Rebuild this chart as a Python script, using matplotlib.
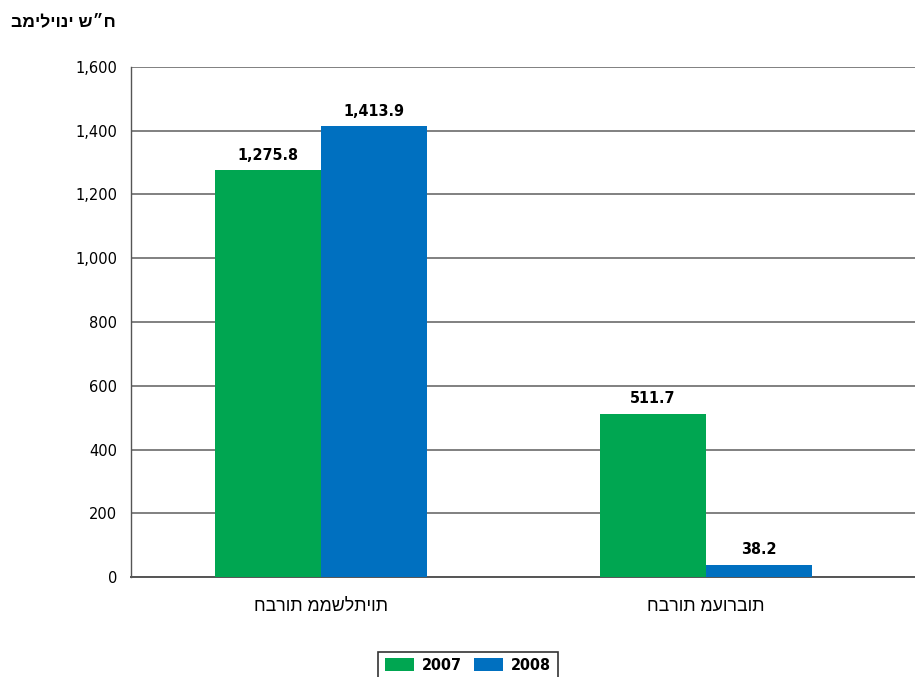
import matplotlib
matplotlib.use("Agg")
import matplotlib.pyplot as plt
import numpy as np

categories = ["חברות ממשלתיות", "חברות מעורבות"]
years = ["2007", "2008"]
values_2007 = [1275.8, 511.7]
values_2008 = [1413.9, 38.2]
y_ticks = [0, 200, 400, 600, 800, 1000, 1200, 1400, 1600]
unit_label = "במיליוני ש״ח"

colors = ["#00A651", "#0070C0"]
hebrew_font = ['Liberation Sans', 'DejaVu Sans']

plt.rcParams['font.family'] = ['DejaVu Sans']

fig = plt.figure(figsize=(9.15, 6.77), dpi=100)
ax = fig.add_axes([131 / 915, 1 - 577 / 677, 1 - 131 / 915, (577 - 67) / 677])

x = np.arange(len(categories))
w = 0.275
series = [values_2007, values_2008]
for i, vals in enumerate(series):
    pos = x + (i - 0.5) * w
    bars = ax.bar(pos, vals, width=w, color=colors[i], label=years[i], zorder=3)
    for b, v in zip(bars, vals):
        ax.text(b.get_x() + b.get_width() / 2, v + 24, f"{v:,.1f}",
                ha="center", va="bottom", fontsize=11.5, fontweight="bold",
                fontstretch="condensed", zorder=4)

ax.set_xlim(-0.4935, 1.543)
ax.set_ylim(0, 1600)
ax.set_yticks(y_ticks)
ax.set_yticklabels([f"{t:,}" for t in y_ticks], fontsize=10.5)
ax.set_xticks(x)
ax.set_xticklabels(categories, fontsize=12.8, family=hebrew_font)
ax.tick_params(axis="both", length=0, colors="black")
ax.tick_params(axis="y", pad=10)
ax.tick_params(axis="x", pad=15)

ax.yaxis.grid(True, color="#808080", linewidth=1.4, zorder=0)
for s in ["top", "right"]:
    ax.spines[s].set_visible(False)
ax.spines["left"].set_color("#555555")
ax.spines["bottom"].set_color("#555555")
ax.spines["left"].set_linewidth(1.0)
ax.spines["bottom"].set_linewidth(1.4)

fig.text(116 / 915, 1 - 22 / 677, unit_label, ha="right", va="center",
         fontsize=12.6, fontweight="bold", family=hebrew_font)

leg = fig.legend(loc="upper center", bbox_to_anchor=(468 / 915, 1 - 652 / 677),
                 ncol=2, frameon=True, fancybox=False, edgecolor="black",
                 prop={"weight": "bold", "size": 11.5, "stretch": "condensed"},
                 handlelength=1.8, handleheight=0.85, columnspacing=0.8,
                 handletextpad=0.5, borderpad=0.4, borderaxespad=0)
leg.get_frame().set_linewidth(1.2)

fig.savefig("out.png", dpi=100)
